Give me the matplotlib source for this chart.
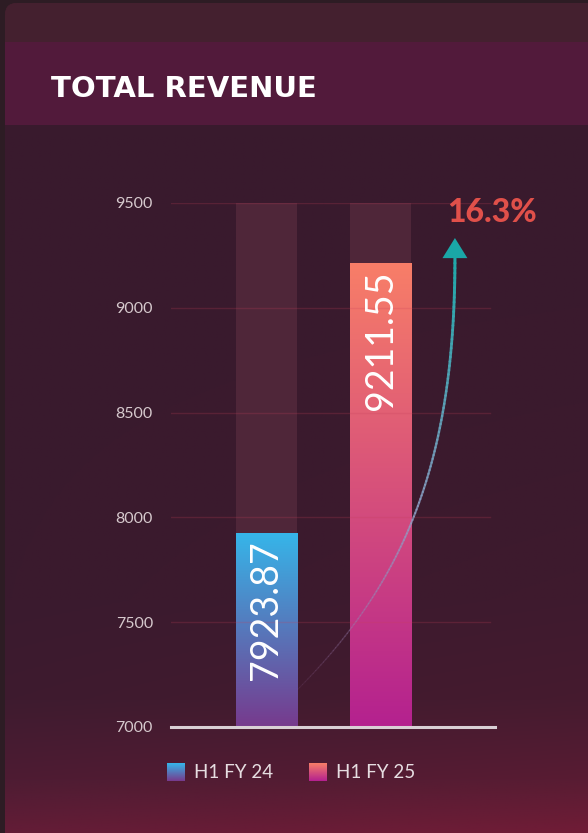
import numpy as np
import matplotlib
matplotlib.use("Agg")
import matplotlib.pyplot as plt
from matplotlib.colors import LinearSegmentedColormap, to_rgba
from matplotlib.patches import FancyBboxPatch, Rectangle, Polygon
from matplotlib.collections import LineCollection

# ---------------- data ----------------
categories = ["H1 FY 24", "H1 FY 25"]
revenue = [7923.87, 9211.55]
y_ticks = [7000, 7500, 8000, 8500, 9000, 9500]
title = "TOTAL REVENUE"

growth = (revenue[1] / revenue[0] - 1) * 100
growth_label = f"{growth:.1f}%"

# ---------------- styles ----------------
W, H = 588, 833
bar_grads = [("#36b5e9", "#773a8d"), ("#f87e68", "#b4218f")]
track_color = "#4f2639"
tick_color = "#d6c9cd"
white = "#ffffff"

fig = plt.figure(figsize=(W / 100, H / 100), dpi=100)
fig.patch.set_facecolor("#2d1c24")

# ---------- background card (pixel coordinates) ----------
bg = fig.add_axes([0, 0, 1, 1])
bg.set_xlim(0, W)
bg.set_ylim(H, 0)
bg.axis("off")

stops_y = np.array([0, 130, 600, 700, 780, 840])
stops_c = [to_rgba(c) for c in ["#44202f", "#391a2d", "#3a1a2e", "#3e1b2f", "#4e1c33", "#661c37"]]
ys = np.linspace(0, H, 400)
img = np.zeros((400, 60, 4))
for ch in range(4):
    col = np.interp(ys, stops_y, [c[ch] for c in stops_c])
    img[:, :, ch] = col[:, None]
xs = np.linspace(0, 1, 60)
img[:, :, 0] += (ys[:, None] / H) ** 3 * xs[None, :] * 0.05
img = np.clip(img, 0, 1)
card = FancyBboxPatch((5, 3), 620, 860, boxstyle="round,pad=0,rounding_size=12",
                      transform=bg.transData, facecolor="none", edgecolor="none")
bg.add_patch(card)
im = bg.imshow(img, extent=(5, W, H, 3), aspect="auto", zorder=1)
im.set_clip_path(card)
top_strip = Rectangle((5, 3), W, 39, facecolor="#44202f", edgecolor="none", zorder=1.5)
bg.add_patch(top_strip)
top_strip.set_clip_path(card)
bg.add_patch(Rectangle((5, 42), W, 83, facecolor="#521a3b", edgecolor="none", zorder=2))
bg.text(51, 97, title, color=white, fontsize=21, fontweight="bold",
        family="DejaVu Sans", va="baseline", ha="left", zorder=3)

# ---------------- main chart ----------------
ax = fig.add_axes([171 / W, (H - 727) / H, 324 / W, 524 / H])
ax.patch.set_alpha(0)
for s in ax.spines.values():
    s.set_visible(False)
ymin, ymax = y_ticks[0], y_ticks[-1]
ax.set_ylim(ymin, ymax)
ax.set_xlim(-0.834, 1.996)
x = np.arange(len(categories))
bw = 0.533

ax.set_yticks(y_ticks)
ax.set_yticklabels([str(t) for t in y_ticks], fontsize=11.5, color=tick_color, family="Lato")
ax.tick_params(axis="y", length=0, pad=13)
ax.set_xticks([])

# track bars
ax.bar(x, ymax - ymin, bottom=ymin, width=bw, color=track_color, zorder=1)

# gradient bars
bars = ax.bar(x, np.array(revenue) - ymin, bottom=ymin, width=bw, color="none", zorder=2)
for rect, (ctop, cbot) in zip(bars, bar_grads):
    cmap = LinearSegmentedColormap.from_list("g", [cbot, ctop])
    x0, y0 = rect.get_x(), rect.get_y()
    grad = np.linspace(0, 1, 256)[:, None]
    gi = ax.imshow(grad, cmap=cmap, origin="lower", aspect="auto",
                   extent=(x0, x0 + rect.get_width(), ymin, y0 + rect.get_height()), zorder=2)
    gi.set_clip_path(rect)
ax.set_xlim(-0.834, 1.996)
ax.set_ylim(ymin, ymax)

# grid lines (faint, above bars)
for t in y_ticks[1:]:
    ax.axhline(t, xmin=0, xmax=0.985, color="#c8405a", alpha=0.22, lw=1, zorder=3)
# base axis line
ax.axhline(ymin, color="#d9d0d5", lw=2.2, zorder=4, clip_on=False)

# value labels
for xi, v in zip(x, revenue):
    ax.annotate(f"{v:.2f}", (xi, v), xytext=(0, -5), textcoords="offset points",
                rotation=90, ha="center", va="top", color=white, fontsize=27,
                family="Lato", zorder=5)

# growth arrow: cubic bezier from first bar to above second bar
p0 = np.array([x[0] + bw / 2, 7176])
p1 = np.array([1.227, 7701])
p2 = np.array([1.646, 8283])
p3 = np.array([1.646, 9237])
t = np.linspace(0, 1, 120)[:, None]
pts = ((1 - t) ** 3) * p0 + 3 * ((1 - t) ** 2) * t * p1 + 3 * (1 - t) * t ** 2 * p2 + t ** 3 * p3
segs = np.stack([pts[:-1], pts[1:]], axis=1)
tt = t[:-1, 0]
c_start = np.array(to_rgba("#9a6aa0", 0.10))
c_mid = np.array(to_rgba("#8fa2c8", 0.75))
c_end = np.array(to_rgba("#1fa9aa", 1.0))
cols = np.where(tt[:, None] < 0.5,
                c_start + (c_mid - c_start) * (tt[:, None] / 0.5),
                c_mid + (c_end - c_mid) * ((tt[:, None] - 0.5) / 0.5))
lws = 0.8 + 1.4 * tt
lc = LineCollection(segs, colors=cols, linewidths=lws, zorder=6, capstyle="round")
lc.set_clip_on(False)
ax.add_collection(lc)
head = Polygon([[p3[0] - 0.109, p3[1]], [p3[0] + 0.109, p3[1]], [p3[0], 9333]],
               closed=True, facecolor="#1aa7a7", edgecolor="none", zorder=7, clip_on=False)
ax.add_patch(head)
ax.text(1.576, 9409, growth_label, color="#e0504a", fontsize=23, fontweight="black",
        family="Lato", ha="left", va="baseline", zorder=7, clip_on=False)

# ---------------- legend ----------------
leg_x = [167, 309]
for lx, (ctop, cbot), lab in zip(leg_x, bar_grads, categories):
    cmap = LinearSegmentedColormap.from_list("g", [ctop, cbot])
    bg.imshow(np.linspace(0, 1, 64)[:, None], cmap=cmap, aspect="auto",
              extent=(lx, lx + 18, 781, 763), zorder=3)
    bg.text(lx + 27, 778, lab, color="#e6dde1", fontsize=13.5, family="Lato",
            ha="left", va="baseline", zorder=3)
bg.set_xlim(0, W)
bg.set_ylim(H, 0)

fig.savefig("out.png", dpi=100, facecolor=fig.get_facecolor())
